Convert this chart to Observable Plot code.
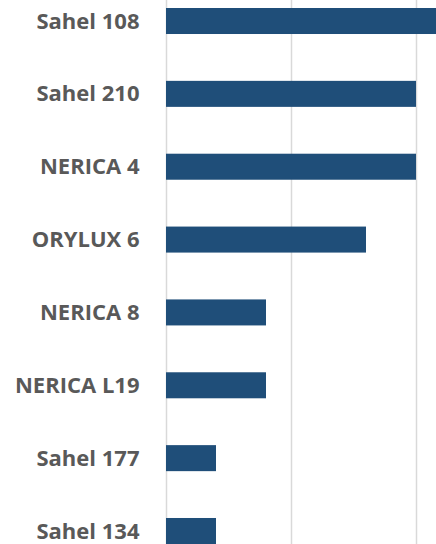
<!DOCTYPE html>
<html>
<head>
<meta charset="utf-8">
<script src="https://cdn.jsdelivr.net/npm/d3@7"></script>
<script src="https://cdn.jsdelivr.net/npm/@observablehq/plot@0.6"></script>
<style>
  html, body { margin: 0; padding: 0; background: #fff; overflow: hidden; }
  #chart svg { display: block; overflow: hidden; }
</style>
</head>
<body>
<div id="chart"></div>
<script>
const varieties = ["Sahel 108", "Sahel 210", "NERICA 4", "ORYLUX 6", "NERICA 8", "NERICA L19", "Sahel 177", "Sahel 134"];
const values = [12, 10, 10, 8, 4, 4, 2, 2];
const gridTicks = [0, 5, 10, 15];

const data = varieties.map((v, i) => ({variety: v, value: values[i]}));

const chart = Plot.plot({
  width: 436,
  height: 544,
  marginLeft: 166,
  marginRight: 0,
  marginTop: 8,
  marginBottom: 0,
  style: {fontFamily: "'Open Sans', sans-serif", background: "#fff"},
  x: {domain: [0, 10.8], axis: null},
  y: {domain: varieties, paddingInner: 0.643, paddingOuter: 0, round: false, axis: null},
  marks: [
    Plot.ruleX(gridTicks, {stroke: "#d9d9d9", strokeWidth: 1.5, insetTop: -8, clip: false}),
    Plot.barX(data, {x: "value", y: "variety", fill: "#1f4e79", clip: true}),
    Plot.axisY({tickSize: 0, tickPadding: 27, fontSize: 22, fontWeight: "bold", color: "#595959", label: null})
  ]
});
document.getElementById("chart").append(chart);
</script>
</body>
</html>
